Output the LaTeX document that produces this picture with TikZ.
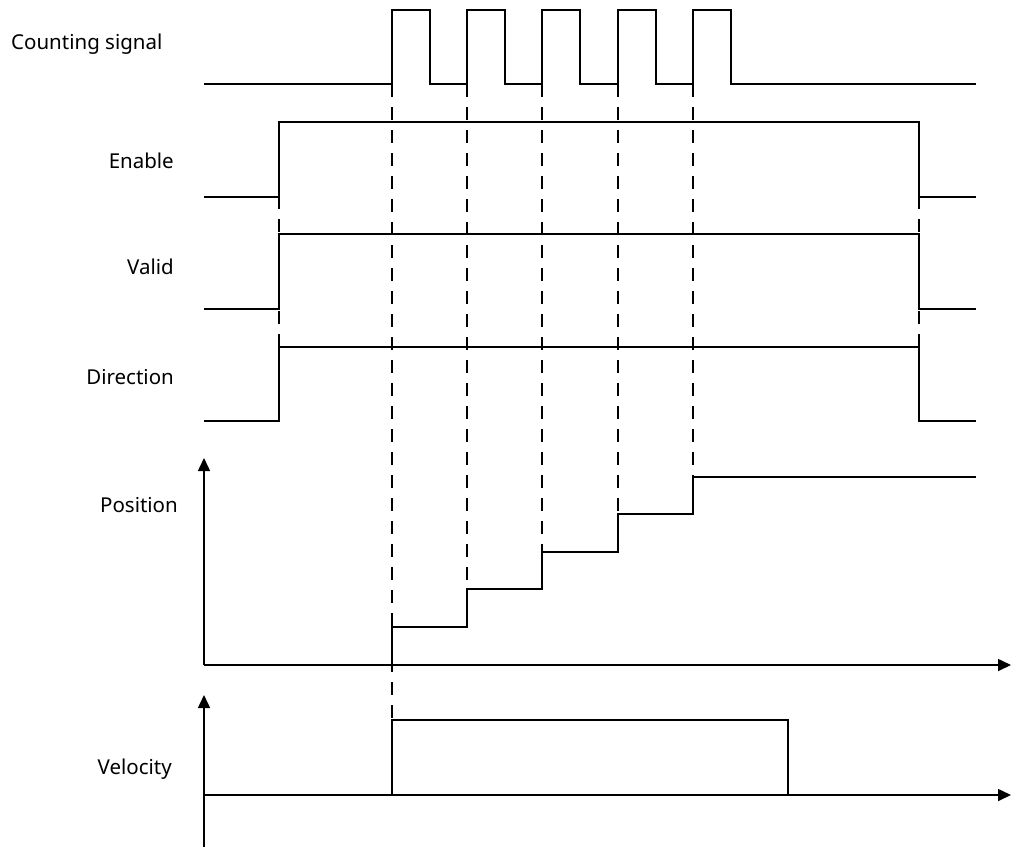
\documentclass[tikz,border=0pt]{standalone}
\usepackage{fontspec}
\setmainfont{Noto Sans}
\usetikzlibrary{arrows.meta}
\begin{document}
\begin{tikzpicture}[x=1pt,y=-1pt,
  sig/.style={line width=2pt, line join=miter},
  guide/.style={line width=1.5pt, dash pattern=on 13pt off 10pt},
  axis/.style={line width=1.6pt, -{Triangle[length=13pt,width=12pt]}},
  lbl/.style={font=\fontsize{20.5}{24}\selectfont, inner sep=0pt}]
\useasboundingbox (0,0) rectangle (1011,847);
% labels
\node[lbl, anchor=mid west] (lcount) at (11,47) {Counting signal};
\node[lbl, anchor=mid east] (lenable) at (174,166) {Enable};
\node[lbl, anchor=mid east] (lvalid) at (174,272) {Valid};
\node[lbl, anchor=mid east] (ldir) at (174,382) {Direction};
\node[lbl, anchor=mid east] (lpos) at (178,510) {Position};
\node[lbl, anchor=mid east] (lvel) at (172,772) {Velocity};
% dashed guides
\draw[guide] (279,196) -- (279,347);
\draw[guide] (919,196) -- (919,347);
\draw[guide] (392,84) -- (392,720);
\draw[guide] (467,84) -- (467,589);
\draw[guide] (542,84) -- (542,552);
\draw[guide] (618,84) -- (618,514);
\draw[guide] (693,84) -- (693,477);
% counting signal
\draw[sig] (204,84) -- (392,84) -- (392,10) -- (430,10) -- (430,84)
  -- (467,84) -- (467,10) -- (505,10) -- (505,84)
  -- (542,84) -- (542,10) -- (580,10) -- (580,84)
  -- (618,84) -- (618,10) -- (656,10) -- (656,84)
  -- (693,84) -- (693,10) -- (731,10) -- (731,84) -- (976,84);
% enable
\draw[sig] (204,197) -- (279,197) -- (279,122) -- (919,122) -- (919,197) -- (976,197);
% valid
\draw[sig] (204,309) -- (279,309) -- (279,234) -- (919,234) -- (919,309) -- (976,309);
% direction
\draw[sig] (204,421) -- (279,421) -- (279,347) -- (919,347) -- (919,421) -- (976,421);
% position axes
\coordinate (po) at (204,665);
\coordinate (pytop) at (204,458);
\coordinate (pxend) at (1011,665);
\draw[axis] (po) -- (pytop);
\draw[axis] (po) -- (pxend);
\draw[sig] (po) -- (392,665) -- (392,627) -- (467,627) -- (467,589) -- (542,589)
  -- (542,552) -- (618,552) -- (618,514) -- (693,514) -- (693,477) -- (976,477);
% velocity axes
\coordinate (vo) at (204,795);
\coordinate (vbot) at (204,847);
\coordinate (vytop) at (204,695);
\coordinate (vxend) at (1011,795);
\draw[axis] (vbot) -- (vytop);
\draw[axis] (vo) -- (vxend);
\draw[sig] (vo) -- (392,795) -- (392,720) -- (788,720) -- (788,795);
\end{tikzpicture}
\end{document}
